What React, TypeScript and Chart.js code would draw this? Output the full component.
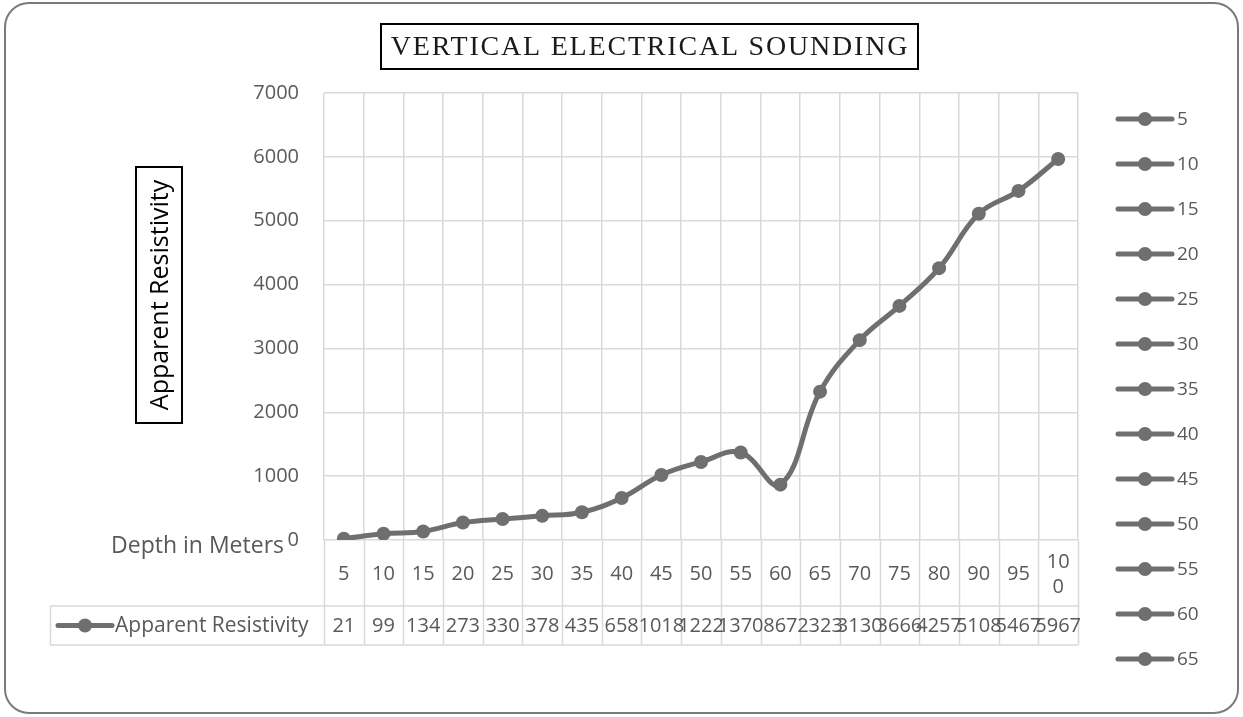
import React, { useEffect, useRef } from "react";
import { Chart, registerables } from "chart.js";

Chart.register(...registerables);

// ---- data ----
const categories = ["5", "10", "15", "20", "25", "30", "35", "40", "45", "50", "55", "60", "65", "70", "75", "80", "90", "95", "100"];
const resistivity = [21, 99, 134, 273, 330, 378, 435, 658, 1018, 1222, 1370, 867, 2323, 3130, 3666, 4257, 5108, 5467, 5967];
const legendLabels = ["5", "10", "15", "20", "25", "30", "35", "40", "45", "50", "55", "60", "65"];
const seriesName = "Apparent Resistivity";
const chartTitle = "VERTICAL ELECTRICAL SOUNDING";
const yAxisTitle = "Apparent Resistivity";
const xAxisTitle = "Depth in Meters";
const yMin = 0;
const yMax = 7000;
const yStep = 1000;

const LINE = "#6f6f6f";
const GRID = "#d9d9d9";
const TXT = "#595959";
const FONT = "'Open Sans', 'Noto Sans', sans-serif";

function drawLineMarker(ctx: CanvasRenderingContext2D, x1: number, x2: number, y: number) {
  ctx.save();
  ctx.strokeStyle = LINE;
  ctx.lineWidth = 5;
  ctx.lineCap = "round";
  ctx.beginPath();
  ctx.moveTo(x1, y);
  ctx.lineTo(x2, y);
  ctx.stroke();
  ctx.fillStyle = LINE;
  ctx.beginPath();
  ctx.arc((x1 + x2) / 2, y, 7, 0, Math.PI * 2);
  ctx.fill();
  ctx.restore();
}

const extrasPlugin = {
  id: "extras",
  beforeDraw(chart: any) {
    const ctx: CanvasRenderingContext2D = chart.ctx;
    ctx.save();
    ctx.fillStyle = "#ffffff";
    ctx.fillRect(0, 0, chart.width, chart.height);
    ctx.restore();
  },
  afterDraw(chart: any) {
    const ctx: CanvasRenderingContext2D = chart.ctx;
    const area = chart.chartArea;
    const xs = chart.scales.x;
    const n = categories.length;
    const colW = (area.right - area.left) / n;
    const catTop = area.bottom;
    const valTop = 606;
    const tblBottom = 645;
    const tblLeft = 50;

    ctx.save();
    // outer rounded border
    ctx.strokeStyle = "#7a7a7a";
    ctx.lineWidth = 2;
    ctx.beginPath();
    (ctx as any).roundRect(5, 3, 1233, 710, 24);
    ctx.stroke();

    // title box
    ctx.strokeStyle = "#000";
    ctx.lineWidth = 2;
    ctx.strokeRect(381, 24, 537, 45);
    ctx.fillStyle = "#1a1a1a";
    ctx.font = "28px 'Liberation Serif', serif";
    (ctx as any).letterSpacing = "1.8px";
    ctx.textAlign = "center";
    ctx.textBaseline = "middle";
    ctx.fillText(chartTitle, 650, 48);
    (ctx as any).letterSpacing = "0px";

    // y axis title box
    ctx.strokeRect(136, 167, 46, 256);
    ctx.save();
    ctx.translate(160, 295);
    ctx.rotate(-Math.PI / 2);
    ctx.fillStyle = "#000";
    ctx.font = `25px ${FONT}`;
    ctx.textAlign = "center";
    ctx.textBaseline = "middle";
    ctx.fillText(yAxisTitle, 0, 1);
    ctx.restore();

    // x axis title
    ctx.fillStyle = TXT;
    ctx.font = `23px ${FONT}`;
    ctx.textAlign = "right";
    ctx.textBaseline = "middle";
    ctx.fillText(xAxisTitle, 284, 546);

    // data table lines
    ctx.strokeStyle = GRID;
    ctx.lineWidth = 1.5;
    ctx.beginPath();
    for (let i = 0; i <= n; i++) {
      const bx = Math.round(area.left + i * colW) + 0.5;
      ctx.moveTo(bx, catTop);
      ctx.lineTo(bx, tblBottom);
    }
    ctx.moveTo(tblLeft, valTop);
    ctx.lineTo(area.right, valTop);
    ctx.moveTo(tblLeft, tblBottom);
    ctx.lineTo(area.right, tblBottom);
    ctx.moveTo(tblLeft + 0.5, valTop);
    ctx.lineTo(tblLeft + 0.5, tblBottom);
    ctx.stroke();

    // category labels and values
    ctx.fillStyle = TXT;
    ctx.font = `20px ${FONT}`;
    ctx.textAlign = "center";
    ctx.textBaseline = "middle";
    const catMid = (catTop + valTop) / 2 + 1;
    const valMid = (valTop + tblBottom) / 2 + 1;
    categories.forEach((c, i) => {
      const cx = xs.getPixelForValue(i);
      if (c.length >= 3) {
        ctx.fillText(c.slice(0, 2), cx, catMid - 12);
        ctx.fillText(c.slice(2), cx, catMid + 13);
      } else {
        ctx.fillText(c, cx, catMid);
      }
      ctx.fillText(String(resistivity[i]), cx, valMid);
    });

    // table legend key
    drawLineMarker(ctx, 58, 112, valMid - 1);
    ctx.textAlign = "left";
    ctx.font = `21px ${FONT}`;
    ctx.fillText(seriesName, 115, valMid);

    // right legend
    legendLabels.forEach((lab, i) => {
      const y = 119 + i * 45;
      drawLineMarker(ctx, 1118, 1172, y);
      ctx.fillStyle = TXT;
      ctx.font = `19px ${FONT}`;
      ctx.textAlign = "left";
      ctx.textBaseline = "middle";
      ctx.fillText(lab, 1177, y + 1);
    });
    ctx.restore();
  },
};

export default function App() {
  const ref = useRef<HTMLCanvasElement | null>(null);
  useEffect(() => {
    if (!ref.current) return;
    const chart = new Chart(ref.current, {
      type: "line",
      data: {
        labels: categories,
        datasets: [
          {
            label: seriesName,
            data: resistivity,
            borderColor: LINE,
            backgroundColor: LINE,
            borderWidth: 5,
            pointRadius: 7,
            pointBackgroundColor: LINE,
            pointBorderColor: LINE,
            pointBorderWidth: 0,
            tension: 0.4,
            fill: false,
          },
        ],
      },
      options: {
        responsive: false,
        animation: false,
        devicePixelRatio: 1,
        layout: { padding: { left: 244, right: 165, top: 93, bottom: 177 } },
        plugins: {
          legend: { display: false },
          title: { display: false },
          tooltip: { enabled: false },
        },
        scales: {
          x: {
            type: "category",
            offset: true,
            grid: { display: true, offset: true, color: GRID, lineWidth: 1.5, drawTicks: false },
            border: { display: false },
            ticks: { display: false },
          },
          y: {
            min: yMin,
            max: yMax,
            afterFit: (axis: any) => {
              axis.width = 80;
            },
            ticks: {
              stepSize: yStep,
              padding: 25,
              color: TXT,
              font: { family: FONT, size: 20 },
              callback: (v: any) => String(v),
            },
            grid: { color: GRID, lineWidth: 1.5, drawTicks: false },
            border: { display: false },
          },
        },
      },
      plugins: [extrasPlugin],
    } as any);
    return () => chart.destroy();
  }, []);
  return (
    <div style={{ position: "absolute", left: 0, top: 0, width: 1243, height: 717 }}>
      <canvas ref={ref} width={1243} height={717} style={{ width: 1243, height: 717, display: "block" }} />
    </div>
  );
}
